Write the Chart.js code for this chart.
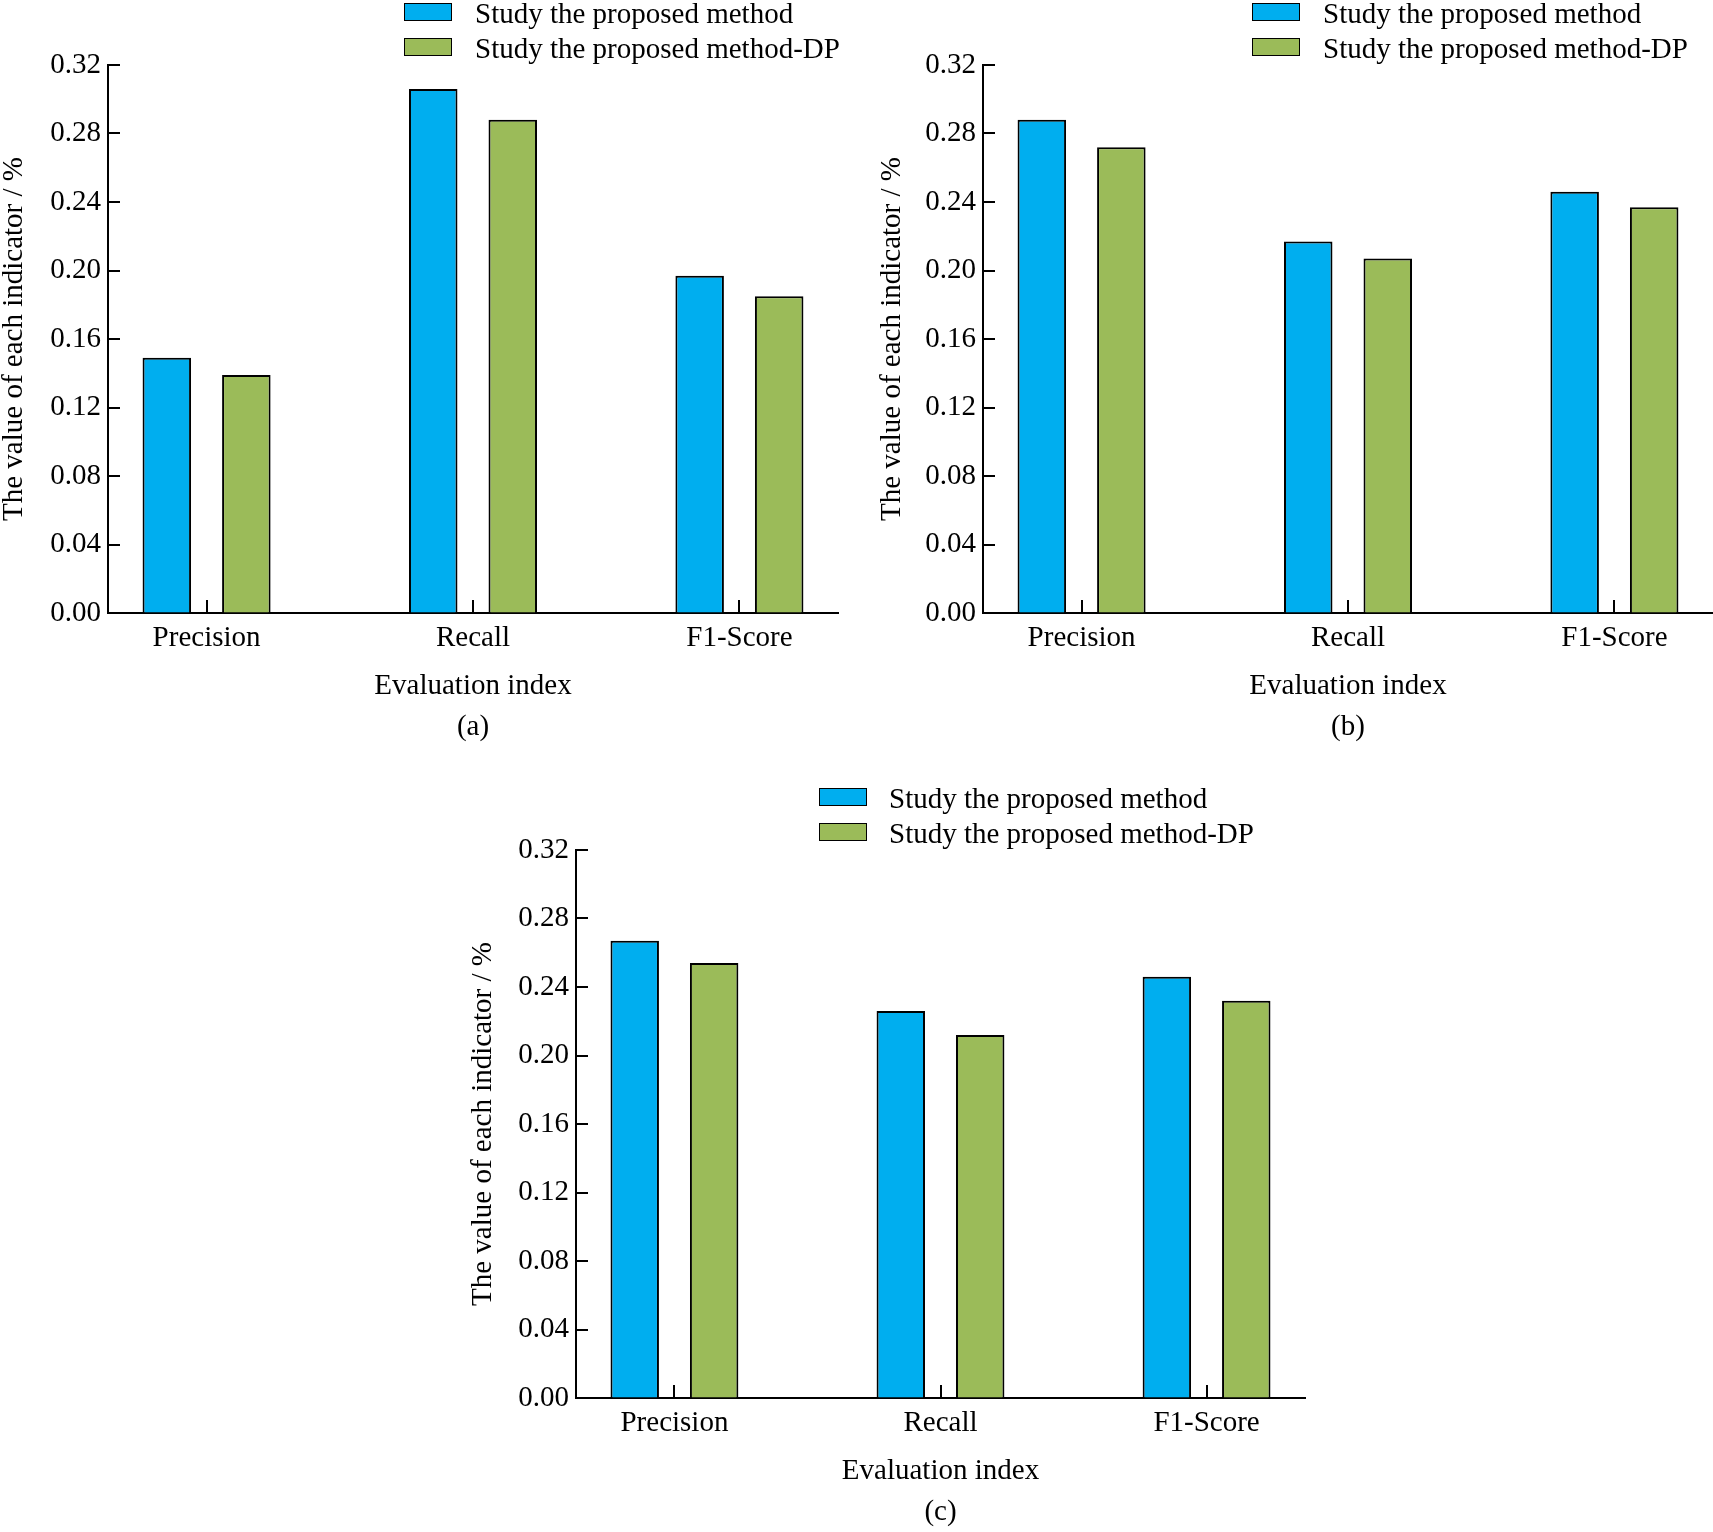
<!DOCTYPE html>
<html>
<head>
<meta charset="utf-8">
<script src="https://cdn.jsdelivr.net/npm/chart.js@4.4.1/dist/chart.umd.min.js"></script>
<style>
  html, body { margin: 0; padding: 0; background: #fff; }
  body { position: relative; width: 1713px; height: 1532px; overflow: hidden;
         font-family: "Liberation Serif", "Times New Roman", serif; color: #000; }
  .panel { position: absolute; }
  .legend-box { position: absolute; width: 46px; height: 16px; border: 1.5px solid #000; }
  .legend-text { position: absolute; font-size: 29px; line-height: 34px; white-space: nowrap; }
</style>
</head>
<body>
<div class="panel" id="pa" style="left:0px;top:0px;width:860px;height:760px"><canvas id="ca"></canvas></div>
<div class="panel" id="pb" style="left:878px;top:0px;width:835px;height:760px"><canvas id="cb"></canvas></div>
<div class="panel" id="pc" style="left:469px;top:785px;width:860px;height:760px"><canvas id="cc"></canvas></div>

<script>
// ---- data ----
const categories = ["Precision", "Recall", "F1-Score"];
const seriesNames = ["Study the proposed method", "Study the proposed method-DP"];
const seriesColors = ["#00AEEF", "#9BBB59"];

const proposedA   = [0.149, 0.306, 0.197];
const proposedDpA = [0.139, 0.288, 0.185];
const proposedB   = [0.288, 0.217, 0.246];
const proposedDpB = [0.272, 0.207, 0.237];
const proposedC   = [0.267, 0.226, 0.246];
const proposedDpC = [0.254, 0.212, 0.232];

const yMax = 0.32;
const yStep = 0.04;
const yTitle = "The value of each indicator / %";
const xTitle = "Evaluation index";

const FONT = "'Liberation Serif', 'Times New Roman', serif";
Chart.defaults.color = "#000";
Chart.defaults.font.family = FONT;

// small inward tick marks (y ticks point right, category ticks point up)
const innerTicks = {
  id: "innerTicks",
  afterDatasetsDraw(chart) {
    const { ctx, scales: { x, y } } = chart;
    ctx.save();
    ctx.strokeStyle = "#000";
    ctx.lineWidth = 2;
    ctx.beginPath();
    y.ticks.forEach((t) => {
      const py = Math.round(y.getPixelForValue(t.value));
      ctx.moveTo(y.right, py);
      ctx.lineTo(y.right + 12, py);
    });
    x.ticks.forEach((t) => {
      const px = Math.round(x.getPixelForValue(t.value));
      ctx.moveTo(px, x.top);
      ctx.lineTo(px, x.top - 13);
    });
    ctx.stroke();
    ctx.restore();
  },
};

function makePanel(canvasId, first, second, caption, axisW, padRight) {
  const data = {
    datasets: [first, second].map((vals, k) => ({
      label: seriesNames[k],
      data: vals.map((v, i) => ({ x: i, y: v })),
      backgroundColor: seriesColors[k],
      borderColor: "#000",
      borderWidth: 2,
      categoryPercentage: 0.597,
      barPercentage: 0.61,
    })),
  };
  return new Chart(document.getElementById(canvasId), {
    type: "bar",
    data,
    plugins: [innerTicks],
    options: {
      responsive: true,
      maintainAspectRatio: false,
      animation: false,
      layout: { padding: { top: 65, left: 0, right: padRight, bottom: 12.5 } },
      plugins: { legend: { display: false }, tooltip: { enabled: false } },
      scales: {
        x: {
          type: "linear",
          offset: false,
          min: -0.37,
          max: 2.37,
          afterBuildTicks: (axis) => { axis.ticks = categories.map((_, i) => ({ value: i })); },
          afterFit: (axis) => { axis.height = 134.5; },
          ticks: {
            callback: (v) => categories[v],
            font: { size: 29 },
            padding: 8,
            autoSkip: false,
            maxRotation: 0,
          },
          grid: { display: true, offset: false, drawOnChartArea: false, drawTicks: false },
          border: { display: true, color: "#000", width: 2 },
          title: {
            display: true,
            text: [xTitle, caption],
            font: { size: 29, lineHeight: 41 / 29 },
            padding: { top: 0, bottom: 0 },
          },
        },
        y: {
          min: 0,
          max: yMax,
          afterFit: (axis) => { axis.width = axisW; },
          ticks: {
            stepSize: yStep,
            callback: (v) => Number(v).toFixed(2),
            font: { size: 29 },
            padding: 7,
          },
          grid: { display: true, drawOnChartArea: false, drawTicks: false },
          border: { display: true, color: "#000", width: 2 },
          title: {
            display: true,
            text: yTitle,
            font: { size: 29, lineHeight: 1 },
            padding: { top: 0, bottom: 0 },
          },
        },
      },
    },
  });
}

// HTML legend, two stacked rows
function makeLegend(left, top, textLeft) {
  seriesNames.forEach((name, k) => {
    const box = document.createElement("div");
    box.className = "legend-box";
    box.style.left = left + "px";
    box.style.top = (top + k * 35) + "px";
    box.style.background = seriesColors[k];
    document.body.appendChild(box);
    const txt = document.createElement("div");
    txt.className = "legend-text";
    txt.textContent = name;
    txt.style.left = textLeft + "px";
    txt.style.top = (top + k * 35 + 9.5 - 17) + "px";
    document.body.appendChild(txt);
  });
}

makePanel("ca", proposedA, proposedDpA, "(a)", 108, 22);
makePanel("cb", proposedB, proposedDpB, "(b)", 105, 0);
makePanel("cc", proposedC, proposedDpC, "(c)", 107, 24);

makeLegend(404, 3, 475);
makeLegend(1252, 3, 1323);
makeLegend(819, 788, 889);
</script>
</body>
</html>
